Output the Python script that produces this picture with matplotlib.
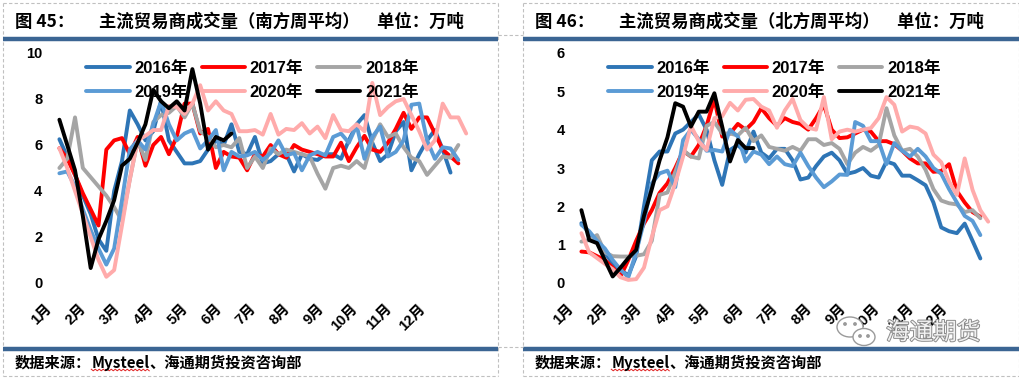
import numpy as np
import matplotlib
matplotlib.use('Agg')
import matplotlib.pyplot as plt
from matplotlib.lines import Line2D
from matplotlib.patches import Ellipse, Circle
import matplotlib.patheffects as pe

# 字体：英文数字用 Liberation Sans，中文回退到 Noto Sans CJK SC
plt.rcParams['font.family'] = ['Liberation Sans', 'Noto Sans CJK SC']

W, H = 1020, 379

years = ['2016年', '2017年', '2018年', '2019年', '2020年', '2021年']
colors = ['#2E75B6', '#FF0000', '#A5A5A5', '#5B9BD5', '#FFABAB', '#000000']
months = ['1月', '2月', '3月', '4月', '5月', '6月', '7月', '8月', '9月', '10月', '11月', '12月']

# 南方周平均（万吨），按周
south_2016 = [6.25, 5.5, 4.7, 3.8, 3.0, 1.9, 1.4, 4.0, 5.3, 7.5, 6.9, 6.2, 6.6, 7.9, 6.2, 5.7,
              5.2, 5.2, 5.3, 5.8, 6.2, 6.0, 6.9, 5.7, 5.6, 6.35, 5.2, 5.3, 5.6, 5.6, 4.85, 5.6,
              5.4, 5.35, 5.6, 5.6, 5.4, 6.2, 6.9, 7.3, 6.1, 5.3, 5.6, 6.6, 7.0, 4.9, 5.6, 6.2,
              6.65, 5.8, 4.8]
south_2017 = [5.86, 5.4, 4.7, 3.9, 3.2, 2.5, 5.8, 6.2, 6.3, 5.6, 6.35, 5.1, 6.0, 6.35, 5.6, 6.35,
              7.8, 7.8, 6.5, 6.7, 5.0, 5.7, 5.5, 5.45, 4.9, 5.6, 5.5, 6.0, 5.6, 5.45, 6.0, 5.8,
              5.7, 5.6, 5.5, 5.5, 6.1, 5.3, 5.9, 6.4, 5.8, 5.7, 6.1, 6.7, 7.4, 6.7, 7.2, 7.2,
              6.5, 5.8, 5.5, 5.2]
south_2018 = [5.0, 5.4, 7.2, 5.0, 4.6, 4.2, 3.8, 3.3, 2.7, 4.5, 6.2, 5.35, 7.0, 7.3, 7.4, 7.7,
              7.2, 7.8, 6.6, 6.35, 5.9, 6.0, 5.9, 6.3, 5.0, 5.5, 5.0, 5.85, 5.6, 5.8, 5.7, 5.6,
              5.5, 4.75, 4.1, 5.0, 5.1, 5.0, 5.3, 5.0, 6.2, 6.9, 6.35, 6.5, 5.9, 5.45, 5.3, 4.7,
              5.1, 5.5, 5.45, 6.0]
south_2019 = [4.77, 4.85, 4.2, 3.2, 2.3, 1.5, 0.8, 1.5, 3.6, 5.8, 6.2, 5.8, 6.9, 7.9, 6.9, 6.2,
              6.5, 6.65, 5.85, 6.2, 6.65, 4.9, 5.7, 5.5, 5.55, 5.7, 5.35, 5.65, 6.2, 5.55, 5.65, 4.9,
              5.55, 5.7, 5.55, 6.35, 6.5, 6.1, 6.85, 5.4, 6.35, 6.8, 5.5, 5.7, 6.2, 7.75, 7.8, 6.2,
              5.4, 5.9, 5.85, 5.35]
south_2020 = [5.86, 5.0, 4.0, 3.0, 2.0, 1.0, 0.27, 0.56, 2.5, 4.5, 6.2, 6.4, 6.65, 6.65, 7.7, 7.65,
              7.35, 7.8, 8.6, 7.5, 7.9, 7.5, 7.35, 6.6, 6.6, 6.65, 6.45, 7.35, 6.45, 6.7, 6.65, 6.95,
              6.5, 6.8, 6.3, 7.3, 6.65, 6.6, 6.9, 6.6, 8.7, 7.3, 7.65, 7.9, 8.0, 7.3, 6.6, 5.8,
              6.2, 7.8, 7.2, 7.2, 6.5]
south_2021 = [7.1, 6.0, 4.9, 2.9, 0.65, 1.9, 2.7, 3.6, 5.1, 5.4, 6.1, 6.9, 8.4, 7.9, 7.6, 7.9,
              7.5, 9.3, 7.8, 5.8, 6.35, 6.2, 6.5]

# 北方周平均（万吨），按周
north_2016 = [1.56, 1.3, 1.1, 0.8, 0.5, 0.34, 0.2, 0.7, 2.0, 3.2, 3.43, 3.43, 3.9, 4.0, 4.2, 4.4,
              4.0, 3.2, 2.56, 3.47, 3.6, 3.4, 3.95, 3.4, 3.25, 3.5, 3.5, 3.2, 2.7, 2.75, 3.05, 3.3,
              3.4, 3.2, 2.85, 2.9, 3.0, 2.8, 2.75, 3.17, 3.1, 2.8, 2.8, 2.68, 2.55, 2.1, 1.45, 1.35,
              1.3, 1.55, 1.1, 0.64]
north_2017 = [0.82, 0.8, 0.7, 0.6, 0.4, 0.17, 0.6, 1.1, 1.55, 1.9, 2.35, 2.6, 3.0, 3.45, 3.3, 3.6,
              4.1, 4.8, 3.82, 3.9, 4.15, 4.0, 4.2, 4.56, 4.3, 4.1, 4.3, 4.2, 4.15, 4.0, 4.3, 4.65,
              4.0, 3.78, 3.8, 3.9, 4.0, 3.95, 3.7, 3.7, 3.62, 3.45, 3.25, 3.12, 3.12, 2.9, 2.92, 3.1,
              2.4, 2.1, 1.85, 1.73]
north_2018 = [1.08, 1.12, 1.25, 0.8, 0.7, 0.69, 0.69, 0.71, 0.75, 1.1, 2.3, 2.36, 2.9, 3.47, 3.3, 3.25,
              4.1, 4.2, 3.9, 3.9, 3.85, 4.05, 3.7, 3.85, 3.55, 3.5, 3.45, 3.55, 3.45, 3.75, 3.75, 3.6,
              3.65, 3.5, 3.1, 3.4, 3.55, 3.45, 3.6, 4.56, 3.85, 3.45, 3.5, 3.3, 2.95, 2.45, 2.15, 2.08,
              2.05, 1.85, 1.9, 1.69]
north_2019 = [1.52, 1.35, 1.1, 0.9, 0.6, 0.35, 0.15, 0.8, 1.6, 2.6, 2.86, 2.93, 2.5, 3.73, 4.0, 3.75,
              3.45, 3.47, 3.43, 4.0, 3.82, 3.17, 3.43, 3.35, 3.1, 3.3, 3.1, 3.05, 3.4, 3.05, 2.75, 2.5,
              2.65, 2.83, 2.82, 4.2, 4.1, 3.7, 3.7, 3.1, 3.65, 3.45, 3.3, 3.5, 3.3, 3.0, 2.85, 2.45,
              2.1, 1.75, 1.62, 1.25]
north_2020 = [1.3, 0.8, 0.65, 0.5, 0.36, 0.15, 0.08, 0.1, 0.4, 1.2, 1.9, 2.0, 2.6, 3.3, 4.1, 3.7,
              3.47, 4.3, 4.35, 4.7, 4.5, 4.78, 4.8, 4.6, 4.5, 4.05, 4.5, 4.8, 4.25, 4.05, 4.0, 4.85,
              3.75, 3.95, 4.0, 3.95, 4.0, 4.04, 4.3, 4.85, 4.65, 3.95, 4.08, 4.04, 3.9, 3.35, 3.15, 2.65,
              2.3, 3.25, 2.43, 1.9, 1.6]
north_2021 = [1.9, 1.12, 1.04, 0.6, 0.17, 0.4, 0.65, 0.86, 1.75, 2.45, 3.2, 3.8, 4.69, 4.6, 4.08, 4.47,
              4.47, 4.95, 4.08, 3.17, 3.73, 3.52, 3.52]

south = [south_2016, south_2017, south_2018, south_2019, south_2020, south_2021]
north = [north_2016, north_2017, north_2018, north_2019, north_2020, north_2021]

BLUE = '#3B6593'
GRID = '#C0C0C0'
fig = plt.figure(figsize=(W / 100, H / 100), dpi=100)
T = fig.dpi_scale_trans


def P(x, y):
    """ 像素坐标 -> 英寸坐标（左上角为原点） """
    return x / 100, (H - y) / 100


def hline(x0, x1, y, **kw):
    (a, b), (c, d) = P(x0, y), P(x1, y)
    fig.add_artist(Line2D([a, c], [b, d], transform=T, **kw))


def vline(x, y0, y1, **kw):
    (a, b), (c, d) = P(x, y0), P(x, y1)
    fig.add_artist(Line2D([a, c], [b, d], transform=T, **kw))


def panel(x0, x1, ax_left, series, ymax, yticks, legend_x, tag, title, pad_y):
    # 虚线边框
    dash = dict(color=GRID, lw=0.8, ls=(0, (3, 2)))
    vline(x0, 3, 376, **dash)
    vline(x1, 3, 376, **dash)
    hline(x0, x1, 3, **dash)
    hline(x0, x1, 376, **dash)
    # 标题和蓝色粗线
    hline(x0, x1, 38.5, color=BLUE, lw=3.2, solid_capstyle='butt')
    hline(x0, x1, 349, color=BLUE, lw=3.2, solid_capstyle='butt')
    fig.text(*P(x0 + 12, 22), tag, transform=T, fontsize=12.5, fontweight='bold',
             va='center', ha='left', family=['Noto Sans CJK SC'])
    fig.text(*P(x0 + 96, 22), title, transform=T, fontsize=12.5, fontweight='bold',
             va='center', ha='left', family=['Noto Sans CJK SC'])
    # 数据来源
    r = fig.canvas.get_renderer()
    xs = x0 + 12
    parts = ['数据来源：', 'Mysteel', '、海通期货投资咨询部']
    for i, s in enumerate(parts):
        t = fig.text(*P(xs, 363), s, transform=T, fontsize=11, fontweight='bold',
                     va='center', ha='left', family=['Noto Sans CJK SC'])
        bb = t.get_window_extent(r)
        if i == 1:
            # 拼写检查的红色波浪线
            zx = np.arange(xs, xs + bb.width, 2.0)
            zy = 370 + np.where(np.arange(len(zx)) % 2 == 0, -0.8, 0.8)
            fig.add_artist(Line2D(zx / 100, (H - zy) / 100, transform=T,
                                  color='#E02020', lw=0.7))
        xs += bb.width

    ax = fig.add_axes([ax_left / W, (H - 283) / H, 424 / W, 230 / H])
    lines = []
    for name, vals, c in zip(years, series, colors):
        ln, = ax.plot(np.arange(len(vals)), vals, color=c, lw=2.8, label=name,
                      clip_on=False, solid_joinstyle='round', solid_capstyle='round')
        lines.append(ln)
    ax.set_xlim(-1, 53)
    ax.set_ylim(0, ymax)
    ax.set_yticks(yticks)
    ax.set_yticklabels([str(v) for v in yticks], fontsize=10.5, fontweight='bold')
    ticks = [-1.2 + 4.34 * k for k in range(12)]
    ax.set_xticks(ticks)
    ax.set_xticklabels(months, rotation=45, ha='right', va='center',
                       rotation_mode='anchor', fontsize=10.5, fontweight='bold')
    ax.tick_params(axis='both', length=0)
    ax.tick_params(axis='y', pad=pad_y)
    ax.tick_params(axis='x', pad=17)
    for s in ax.spines.values():
        s.set_visible(False)
    ax.patch.set_alpha(0)
    # 图例按行排列：2016 2017 2018 / 2019 2020 2021
    order = [0, 3, 1, 4, 2, 5]
    lx, ly = P(legend_x, 53)
    ax.legend([lines[i] for i in order], [years[i] for i in order],
              loc='upper left', bbox_to_anchor=(lx, ly), bbox_transform=T, ncol=3,
              frameon=False, borderpad=0, handlelength=2.6, handletextpad=0.3,
              columnspacing=0.8, labelspacing=0.5,
              prop={'size': 12, 'weight': 'bold'})
    return ax


panel(3, 498, 50, south, 10, [0, 2, 4, 6, 8, 10], 78, '图 45：',
      '主流贸易商成交量（南方周平均）　单位：万吨', 5.5)
panel(523, 1019, 572, north, 6, [0, 1, 2, 3, 4, 5, 6], 600, '图 46：',
      '主流贸易商成交量（北方周平均）　单位：万吨', 5)

# 两个面板之间的连接虚线
hline(498, 523, 35, color=GRID, lw=0.8, ls=(0, (3, 2)))
hline(498, 523, 347, color=GRID, lw=0.8, ls=(0, (3, 2)))

# 水印：微信图标 + 海通期货
wm = '#9A9A9A'
for (cx, cy, ew, eh) in [(850, 327, 26, 20), (864, 337, 22, 17)]:
    fig.add_artist(Ellipse(P(cx, cy), ew / 100, eh / 100, transform=T,
                           facecolor='white', edgecolor=wm, lw=1.0))
for (cx, cy) in [(845, 324), (855, 324), (860, 336), (868, 336)]:
    fig.add_artist(Circle(P(cx, cy), 0.012, transform=T, color=wm))
fig.text(*P(886, 333), '海通期货', transform=T, fontsize=17, color='#F2F2F2',
         va='center', ha='left', family=['Noto Sans CJK SC'],
         path_effects=[pe.withStroke(linewidth=1.4, foreground='#8C8C8C')])

fig.savefig('out.png', dpi=100)
